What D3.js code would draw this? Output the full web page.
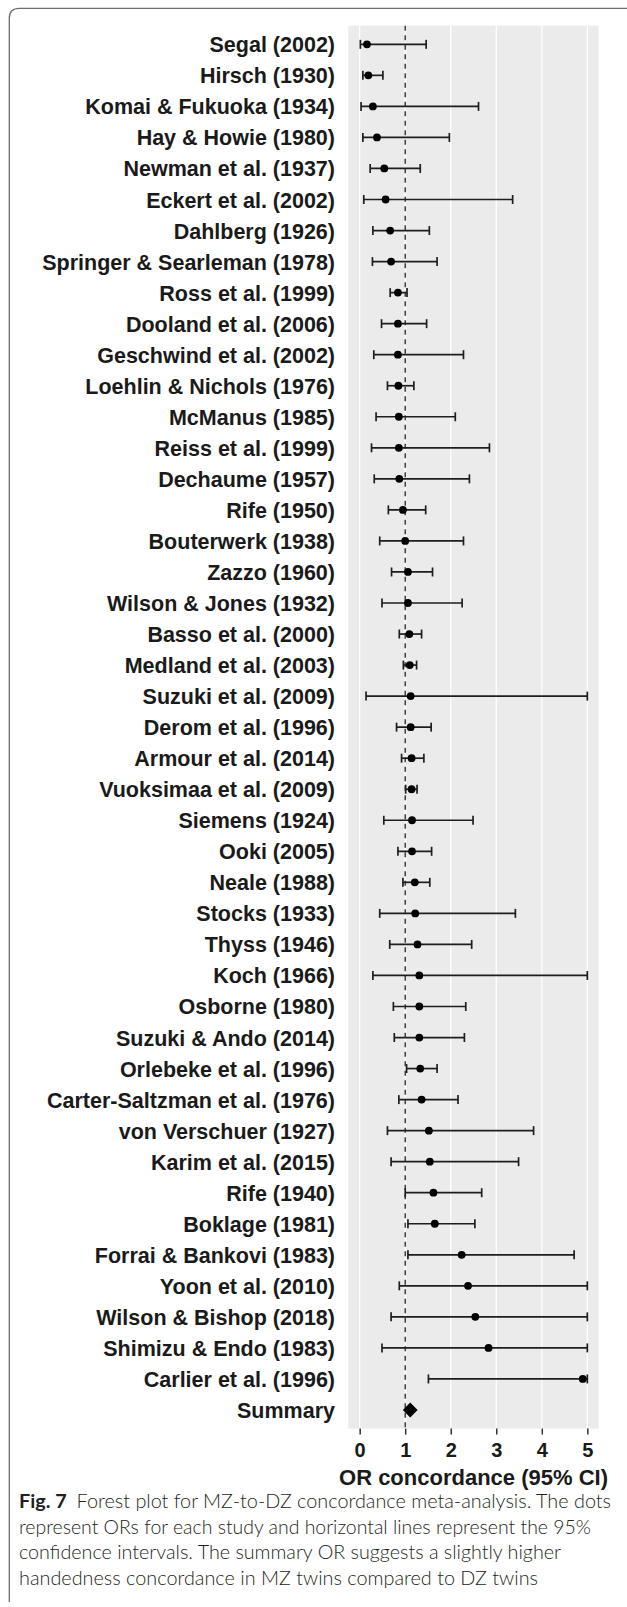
<!DOCTYPE html>
<html>
<head>
<meta charset="utf-8">
<script src="https://cdn.jsdelivr.net/npm/d3@7"></script>
<style>
  html, body { margin: 0; padding: 0; background: #fff; }
  svg { display: block; }
</style>
</head>
<body>
<div id="chart"></div>
<script>
// ---- data ----
const studies = [
  "Segal (2002)", "Hirsch (1930)", "Komai & Fukuoka (1934)", "Hay & Howie (1980)",
  "Newman et al. (1937)", "Eckert et al. (2002)", "Dahlberg (1926)", "Springer & Searleman (1978)",
  "Ross et al. (1999)", "Dooland et al. (2006)", "Geschwind et al. (2002)", "Loehlin & Nichols (1976)",
  "McManus (1985)", "Reiss et al. (1999)", "Dechaume (1957)", "Rife (1950)",
  "Bouterwerk (1938)", "Zazzo (1960)", "Wilson & Jones (1932)", "Basso et al. (2000)",
  "Medland et al. (2003)", "Suzuki et al. (2009)", "Derom et al. (1996)", "Armour et al. (2014)",
  "Vuoksimaa et al. (2009)", "Siemens (1924)", "Ooki (2005)", "Neale (1988)",
  "Stocks (1933)", "Thyss (1946)", "Koch (1966)", "Osborne (1980)",
  "Suzuki & Ando (2014)", "Orlebeke et al. (1996)", "Carter-Saltzman et al. (1976)", "von Verschuer (1927)",
  "Karim et al. (2015)", "Rife (1940)", "Boklage (1981)", "Forrai & Bankovi (1983)",
  "Yoon et al. (2010)", "Wilson & Bishop (2018)", "Shimizu & Endo (1983)", "Carlier et al. (1996)"
];
const orValues = [0.16,0.19,0.29,0.38,0.54,0.57,0.67,0.69,0.84,0.84,0.84,0.85,
  0.86,0.86,0.87,0.95,1.00,1.06,1.06,1.09,1.10,1.12,1.12,1.14,
  1.14,1.15,1.15,1.21,1.22,1.27,1.31,1.31,1.31,1.33,1.36,1.52,
  1.54,1.62,1.65,2.24,2.38,2.54,2.83,4.90];
const ciLower = [0.015,0.07,0.03,0.07,0.23,0.09,0.29,0.28,0.67,0.48,0.31,0.61,
  0.36,0.26,0.32,0.63,0.44,0.70,0.49,0.87,0.96,0.14,0.81,0.92,
  1.01,0.53,0.84,0.95,0.44,0.66,0.29,0.74,0.76,1.03,0.86,0.61,
  0.69,1.00,1.06,1.06,0.87,0.69,0.49,1.51];
const ciUpper = [1.46,0.51,2.61,1.97,1.33,3.36,1.53,1.70,1.04,1.47,2.28,1.19,
  2.10,2.85,2.41,1.45,2.28,1.60,2.25,1.36,1.25,5.00,1.57,1.41,
  1.26,2.49,1.58,1.54,3.42,2.46,5.00,2.33,2.30,1.70,2.16,3.82,
  3.49,2.68,2.53,4.71,5.00,5.00,5.00,5.00];
const summaryLabel = "Summary";
const summaryOR = 1.11;
const xTicks = [0, 1, 2, 3, 4, 5];
const xTitle = "OR concordance (95% CI)";
const captionBold = "Fig. 7";
const captionLines = [
  "Forest plot for MZ-to-DZ concordance meta-analysis. The dots",
  "represent ORs for each study and horizontal lines represent the 95%",
  "confidence intervals. The summary OR suggests a slightly higher",
  "handedness concordance in MZ twins compared to DZ twins"
];

// ---- layout ----
const W = 627, H = 1607;
const panel = { left: 348.3, right: 598.7, top: 25.7, bottom: 1428.6 };

const svg = d3.select("#chart").append("svg")
  .attr("width", W).attr("height", H)
  .attr("viewBox", `0 0 ${W} ${H}`);

const rows = studies.concat([summaryLabel]);
const x = d3.scaleLinear().domain([-0.25, 5.25]).range([panel.left, panel.right]);
const y = d3.scalePoint().domain(rows).range([panel.top, panel.bottom]).padding(0.6);

// frame (top + left with rounded corner)
const fr = 10, fx = 9.3, fy = 8.3;
svg.append("path")
  .attr("d", `M${fx},1602 V${fy + fr} Q${fx},${fy} ${fx + fr},${fy} H${W}`)
  .attr("fill", "none").attr("stroke", "#6e6e6e").attr("stroke-width", 1.3);

// panel background
svg.append("rect")
  .attr("x", panel.left).attr("y", panel.top)
  .attr("width", panel.right - panel.left).attr("height", panel.bottom - panel.top)
  .attr("fill", "#EBEBEB");

// vertical gridlines
svg.append("g").selectAll("line").data(xTicks).join("line")
  .attr("x1", d => x(d)).attr("x2", d => x(d))
  .attr("y1", panel.top).attr("y2", panel.bottom)
  .attr("stroke", "#fff").attr("stroke-width", 1.2);

// reference line at OR = 1
svg.append("line")
  .attr("x1", x(1)).attr("x2", x(1))
  .attr("y1", panel.top).attr("y2", panel.bottom)
  .attr("stroke", "#222").attr("stroke-width", 1.3)
  .attr("stroke-dasharray", "5,4.5");

// x axis
const xAxis = d3.axisBottom(x).tickValues(xTicks).tickSize(6).tickPadding(5).tickFormat(d3.format("d"));
const gx = svg.append("g").attr("transform", `translate(0,${panel.bottom})`).call(xAxis);
gx.select(".domain").remove();
gx.selectAll(".tick line").attr("stroke", "#333").attr("stroke-width", 1.5);
gx.selectAll(".tick text")
  .attr("fill", "#1a1a1a")
  .attr("font-family", "'Liberation Sans', Arial, sans-serif")
  .attr("font-weight", "bold").attr("font-size", 20)
  .attr("dy", null).attr("y", 28.5);

svg.append("text")
  .attr("x", (panel.left + panel.right) / 2).attr("y", 1485)
  .attr("text-anchor", "middle")
  .attr("font-family", "'Liberation Sans', Arial, sans-serif")
  .attr("font-weight", "bold").attr("font-size", 22).attr("fill", "#1a1a1a")
  .text(xTitle);

// y labels
svg.append("g").selectAll("text").data(rows).join("text")
  .attr("x", 335).attr("y", d => y(d) + 8)
  .attr("text-anchor", "end")
  .attr("font-family", "'Liberation Sans', Arial, sans-serif")
  .attr("font-weight", "bold").attr("font-size", 21.5).attr("fill", "#1a1a1a")
  .text(d => d);

// study data
const data = studies.map((s, i) => ({ s, or: orValues[i], lo: ciLower[i], hi: ciUpper[i] }));
const capH = 4.5;
const g = svg.append("g");
g.selectAll("line.ci").data(data).join("line").attr("class", "ci")
  .attr("x1", d => x(d.lo)).attr("x2", d => x(d.hi))
  .attr("y1", d => y(d.s)).attr("y2", d => y(d.s))
  .attr("stroke", "#1e1e1e").attr("stroke-width", 1.7);
g.selectAll("line.capl").data(data).join("line").attr("class", "capl")
  .attr("x1", d => x(d.lo)).attr("x2", d => x(d.lo))
  .attr("y1", d => y(d.s) - capH).attr("y2", d => y(d.s) + capH)
  .attr("stroke", "#1e1e1e").attr("stroke-width", 1.7);
g.selectAll("line.caph").data(data).join("line").attr("class", "caph")
  .attr("x1", d => x(d.hi)).attr("x2", d => x(d.hi))
  .attr("y1", d => y(d.s) - capH).attr("y2", d => y(d.s) + capH)
  .attr("stroke", "#1e1e1e").attr("stroke-width", 1.7);
g.selectAll("circle").data(data).join("circle")
  .attr("cx", d => x(d.or)).attr("cy", d => y(d.s)).attr("r", 3.9)
  .attr("fill", "#000");

// summary diamond
const dsz = 7.4;
svg.append("path")
  .attr("transform", `translate(${x(summaryOR)},${y(summaryLabel)})`)
  .attr("d", `M0,${-dsz} L${dsz},0 L0,${dsz} L${-dsz},0 Z`)
  .attr("fill", "#000");

// caption
const capX = 19, capBase = 1508, capLH = 25.5;
const capWidths = [592, 572, 542, 519];
const capFont = "Lato, 'Open Sans', sans-serif";
captionLines.forEach((line, i) => {
  const t = svg.append("text")
    .attr("x", capX).attr("y", capBase + i * capLH)
    .attr("font-family", capFont).attr("font-size", 19.5).attr("fill", "#231f20")
    .attr("textLength", capWidths[i]).attr("lengthAdjust", "spacingAndGlyphs");
  if (i === 0) {
    t.append("tspan").attr("font-weight", "bold").text(captionBold);
    t.append("tspan").attr("font-weight", "300").text("\u2002" + line);
  } else {
    t.append("tspan").attr("font-weight", "300").text(line);
  }
});
</script>
</body>
</html>
